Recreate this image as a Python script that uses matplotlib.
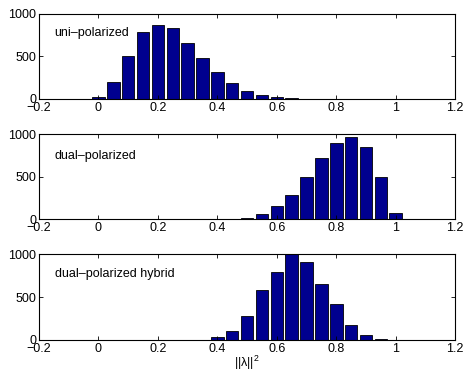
import numpy as np
import matplotlib
matplotlib.use("Agg")
import matplotlib.pyplot as plt

# histogram bin centres (||lambda||^2)
bin_centers = [0.0, 0.05, 0.1, 0.15, 0.2, 0.25, 0.3, 0.35, 0.4, 0.45, 0.5,
               0.55, 0.6, 0.65, 0.7, 0.75, 0.8, 0.85, 0.9, 0.95, 1.0]

uni_counts = [25, 200, 505, 785, 870, 830, 655, 480, 315, 190, 95,
              45, 25, 8, 3, 2, 1, 1, 0, 0, 0]
dual_counts = [0, 0, 0, 0, 0, 0, 0, 0, 0, 3, 12,
               55, 150, 285, 500, 720, 900, 960, 845, 495, 70]
hybrid_counts = [0, 0, 0, 0, 0, 0, 0, 0, 35, 105, 280,
                 580, 795, 995, 910, 655, 415, 175, 60, 15, 0]

labels = ["uni\u2013polarized", "dual\u2013polarized", "dual\u2013polarized hybrid"]
label_y = [775, 740, 765]
xtick_vals = [-0.2, 0, 0.2, 0.4, 0.6, 0.8, 1, 1.2]
xtick_labels = ['\u22120.2', '0', '0.2', '0.4', '0.6', '0.8', '1', '1.2']

plt.rcParams['font.family'] = ['Liberation Sans', 'DejaVu Sans']
plt.rcParams['font.size'] = 9
plt.rcParams['mathtext.fontset'] = 'custom'
plt.rcParams['mathtext.rm'] = 'Liberation Sans'

fig = plt.figure(figsize=(4.64, 3.82), dpi=100)
rects = [[0.084, 0.741, 0.897, 0.2225],
         [0.084, 0.4267, 0.897, 0.2225],
         [0.084, 0.110, 0.897, 0.225]]

for rect, counts, lab, ly in zip(rects, [uni_counts, dual_counts, hybrid_counts], labels, label_y):
    ax = fig.add_axes(rect)
    ax.bar(bin_centers, counts, width=0.042, color='#00008F', edgecolor='black', linewidth=0.6)
    ax.set_xlim(-0.2, 1.2)
    ax.set_ylim(0, 1000)
    ax.set_xticks(xtick_vals)
    ax.set_xticklabels(xtick_labels)
    ax.set_yticks([0, 500, 1000])
    ax.tick_params(direction='in', top=True, right=True, length=3, width=0.6, pad=2, labelsize=9)
    for s in ax.spines.values():
        s.set_linewidth(0.8)
    ax.text(-0.147, ly, lab, fontsize=9, va='center', ha='left')

ax.set_xlabel('||\u03bb||$^{\\mathrm{2}}$', fontsize=9, labelpad=-1)
fig.savefig("out.png", dpi=100)
